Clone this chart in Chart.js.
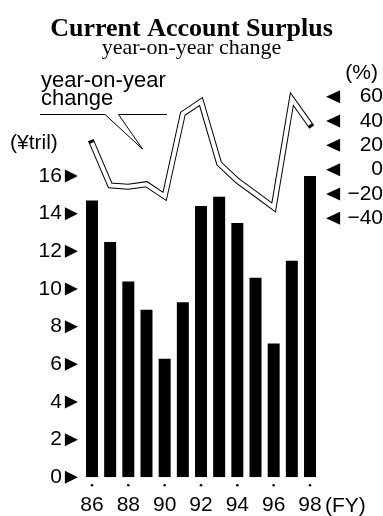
<!DOCTYPE html>
<html>
<head>
<meta charset="utf-8">
<script src="https://cdn.jsdelivr.net/npm/chart.js@4.4.1/dist/chart.umd.min.js"></script>
<style>
  html, body { margin: 0; padding: 0; background: #fff; }
  canvas { display: block; }
</style>
</head>
<body>
<canvas id="surplusChart" width="383" height="516"></canvas>
<script>
// Datos
const years = ['86', '87', '88', '89', '90', '91', '92', '93', '94', '95', '96', '97', '98'];
const surplus = [14.7, 12.5, 10.4, 8.9, 6.3, 9.3, 14.4, 14.9, 13.5, 10.6, 7.1, 11.5, 16.0]; // ¥ tril
const yoyChange = [22, -13, -14, -12, -22, 46, 56, 5, -9, -20, -31, 58, 37]; // %
const leftTicks = [0, 2, 4, 6, 8, 10, 12, 14, 16];
const rightTicks = [-40, -20, 0, 20, 40, 60];

const SANS = "'Liberation Sans', Arial, sans-serif";
const SERIF = "'Liberation Serif', 'Times New Roman', serif";

// Triángulos de los ejes, puntos bajo los años y textos sueltos
const decorations = {
    id: 'decorations',
    afterDraw(chart) {
        const ctx = chart.ctx;
        const area = chart.chartArea;
        const xs = chart.scales.x, ys = chart.scales.y, ys1 = chart.scales.y1;
        ctx.save();
        ctx.fillStyle = '#000';
        ctx.strokeStyle = '#000';

        // ► en el eje izquierdo
        leftTicks.forEach(v => {
            const py = ys.getPixelForValue(v);
            ctx.beginPath();
            ctx.moveTo(area.left - 18, py - 6.5);
            ctx.lineTo(area.left - 5, py);
            ctx.lineTo(area.left - 18, py + 6.5);
            ctx.closePath();
            ctx.fill();
        });

        // ◄ en el eje derecho
        rightTicks.forEach(v => {
            const py = ys1.getPixelForValue(v);
            ctx.beginPath();
            ctx.moveTo(area.right + 21, py - 6.5);
            ctx.lineTo(area.right + 7, py);
            ctx.lineTo(area.right + 21, py + 6.5);
            ctx.closePath();
            ctx.fill();
        });

        // puntitos bajo los años pares
        years.forEach((yr, i) => {
            if (i % 2 !== 0) return;
            ctx.beginPath();
            ctx.arc(xs.getPixelForValue(i), area.bottom + 8, 1.3, 0, Math.PI * 2);
            ctx.fill();
        });

        ctx.font = `21px ${SANS}`;
        ctx.textBaseline = 'alphabetic';
        ctx.textAlign = 'left';
        ctx.fillText('(¥tril)', 10, 149);
        ctx.fillText('(FY)', 325, 511.5);
        ctx.textAlign = 'right';
        ctx.fillText('(%)', 378, 79);

        // etiqueta de la línea con su globo
        ctx.textAlign = 'left';
        ctx.font = `22px ${SANS}`;
        ctx.fillText('year-on-year', 41, 87);
        ctx.fillText('change', 41, 105);

        ctx.lineWidth = 1;
        ctx.beginPath();
        ctx.moveTo(40, 114.5);
        ctx.lineTo(105, 114.5);
        ctx.lineTo(142.5, 149);
        ctx.lineTo(118.5, 114.5);
        ctx.lineTo(167, 114.5);
        ctx.stroke();
        ctx.restore();
    }
};

new Chart(document.getElementById('surplusChart'), {
    data: {
        labels: years,
        datasets: [
            {
                type: 'line',
                data: yoyChange,
                yAxisID: 'y1',
                borderColor: '#fff',
                borderWidth: 4,
                borderCapStyle: 'butt',
                borderJoinStyle: 'miter',
                pointRadius: 0,
                tension: 0,
                clip: false,
                order: 1
            },
            {
                type: 'line',
                data: yoyChange,
                yAxisID: 'y1',
                borderColor: '#000',
                borderWidth: 6,
                borderCapStyle: 'square',
                borderJoinStyle: 'miter',
                pointRadius: 0,
                tension: 0,
                clip: false,
                order: 2
            },
            {
                type: 'bar',
                data: surplus,
                yAxisID: 'y',
                backgroundColor: '#000',
                borderWidth: 0,
                barPercentage: 0.66,
                categoryPercentage: 1,
                order: 3
            }
        ]
    },
    options: {
        responsive: false,
        animation: false,
        events: [],
        layout: { padding: 0 },
        plugins: {
            legend: { display: false },
            tooltip: { enabled: false },
            title: {
                display: true,
                text: 'Current Account Surplus',
                color: '#000',
                font: { family: SERIF, size: 26, weight: 'bold', lineHeight: 0.8 },
                padding: { top: 19, bottom: 0 }
            },
            subtitle: {
                display: true,
                text: 'year-on-year change',
                color: '#000',
                font: { family: SERIF, size: 22, weight: 'normal', lineHeight: 0.8 },
                padding: { top: 0, bottom: 5.6 }
            }
        },
        scales: {
            x: {
                grid: { display: false, drawTicks: false },
                border: { display: false },
                ticks: {
                    autoSkip: false,
                    maxRotation: 0,
                    padding: 15,
                    color: '#000',
                    font: { family: SANS, size: 21 },
                    callback: (v, i) => (i % 2 === 0 ? years[i] : '')
                },
                afterFit: s => { s.height = 38.7; }
            },
            y: {
                position: 'left',
                min: 0,
                max: 22,
                grid: { display: false, drawTicks: false },
                border: { display: false },
                ticks: { padding: 21, color: '#000', font: { family: SANS, size: 21 } },
                afterBuildTicks: s => { s.ticks = leftTicks.map(v => ({ value: v })); },
                afterFit: s => { s.width = 82.9; }
            },
            y1: {
                position: 'right',
                min: -253,
                max: 87.7,
                grid: { display: false, drawTicks: false },
                border: { display: false },
                ticks: {
                    padding: 23,
                    crossAlign: 'far',
                    color: '#000',
                    font: { family: SANS, size: 21 },
                    callback: v => (v < 0 ? '\u2212' + Math.abs(v) : String(v))
                },
                afterBuildTicks: s => { s.ticks = rightTicks.map(v => ({ value: v })); },
                afterFit: s => { s.width = 63.9; }
            }
        }
    },
    plugins: [decorations]
});
</script>
</body>
</html>
